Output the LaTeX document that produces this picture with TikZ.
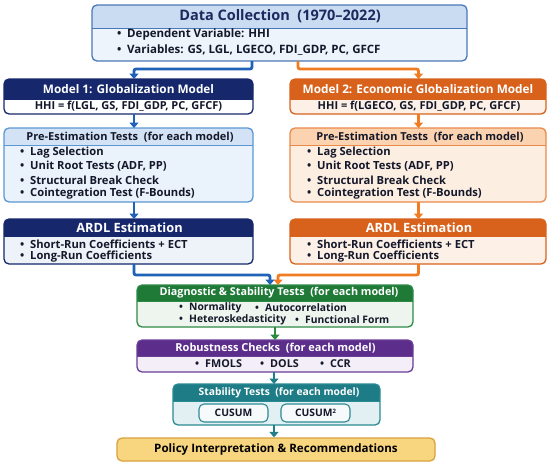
\documentclass[tikz,border=0pt]{standalone}
\usepackage{fontspec}
\setmainfont{Open Sans}
\usetikzlibrary{arrows.meta}
\definecolor{dcB}{HTML}{4A78B8}
\definecolor{dcH}{HTML}{C9DCF2}
\definecolor{dcF}{HTML}{EEF4FB}
\definecolor{navy}{HTML}{16286B}
\definecolor{p1B}{HTML}{5B97D2}
\definecolor{p1H}{HTML}{D3E3F5}
\definecolor{p1F}{HTML}{EAF2FB}
\definecolor{a1F}{HTML}{EEF3F9}
\definecolor{org}{HTML}{D8621C}
\definecolor{m2F}{HTML}{FDF1E7}
\definecolor{p2B}{HTML}{EA8A4A}
\definecolor{p2H}{HTML}{FBD3B0}
\definecolor{p2F}{HTML}{FDEEE2}
\definecolor{grn}{HTML}{1F7A37}
\definecolor{grnB}{HTML}{2D8A45}
\definecolor{grnF}{HTML}{EDF5EE}
\definecolor{pur}{HTML}{5C2D8A}
\definecolor{purB}{HTML}{6A3D96}
\definecolor{purF}{HTML}{F3EEF8}
\definecolor{tea}{HTML}{1D7C86}
\definecolor{teaB}{HTML}{2A8A94}
\definecolor{teaF}{HTML}{E2F0F3}
\definecolor{polF}{HTML}{F8D67F}
\definecolor{polB}{HTML}{D8A23E}
\definecolor{arB}{HTML}{1F63B8}
\definecolor{arO}{HTML}{F07B20}
\definecolor{arG}{HTML}{2A8A3F}
\definecolor{arT}{HTML}{1F7F8A}
\definecolor{txt}{HTML}{14182A}
\definecolor{ttl}{HTML}{1B2A5E}
\newcommand\panel[9]{%
  \node[name=#1, fill=#9, rounded corners=5pt, minimum width={#4-#2}, minimum height={#5-#3}, inner sep=0pt, outer sep=0pt] at ({(#2+#4)/2},{(#3+#5)/2}) {};
  \fill[#8, rounded corners=5pt] (#2,#3) rectangle (#4,#6);
  \fill[#8] (#2,#6-5) rectangle (#4,#6);
  \draw[#7, line width=0.6pt] (#2,#6) -- (#4,#6);
  \draw[#7, line width=1.3pt, rounded corners=5pt] (#1.north west) rectangle (#1.south east);
}
\newcommand\bl{\makebox[10pt][l]{•}}
\tikzset{
  hdr/.style={font=\bfseries\fontsize{11.8}{13}\selectfont, inner sep=0pt},
  bod/.style={font=\bfseries\fontsize{11.2}{13}\selectfont, inner sep=0pt, anchor=west, text=txt},
  sbod/.style={bod, font=\bfseries\fontsize{10.3}{12}\selectfont},
  frm/.style={font=\bfseries\fontsize{11}{13}\selectfont, inner sep=0pt, text=txt},
  arr/.style={line width=2.8pt, rounded corners=2pt, -{Triangle[width=9pt,length=5.5pt]}},
}
\begin{document}
\begin{tikzpicture}[x=1pt,y=-1pt]
\useasboundingbox (0,0) rectangle (550,466);
\fill[white] (0,0) rectangle (550,466);
% panels
\panel{data}{92}{5}{467}{61}{28}{dcB}{dcH}{dcF}
\panel{m1}{4}{79}{253}{114}{99}{navy}{navy}{white}
\panel{m2}{290}{79}{546}{114}{99}{org}{org}{m2F}
\panel{pre1}{4}{128}{253}{202}{145}{p1B}{p1H}{p1F}
\panel{pre2}{290}{128}{546}{202}{145}{p2B}{p2H}{p2F}
\panel{ardl1}{4}{219}{253}{264}{236}{navy}{navy}{a1F}
\panel{ardl2}{290}{219}{546}{264}{236}{org}{org}{m2F}
\panel{diag}{137}{285}{413}{327}{301}{grnB}{grn}{grnF}
\panel{rob}{137}{340}{413}{372}{356}{purB}{pur}{purF}
\panel{stab}{173}{384}{380}{425}{401}{teaB}{tea}{teaF}
\node[name=pol, fill=polF, draw=polB, line width=1.3pt, rounded corners=5pt, minimum width=318pt, minimum height=23pt, inner sep=0pt] at (276,449.5) {};
\node[name=cus1, fill=white!70!teaF, draw=teaB, line width=1.1pt, rounded corners=5pt, minimum width=69pt, minimum height=18pt, inner sep=0pt] at (233.5,413) {};
\node[name=cus2, fill=white!70!teaF, draw=teaB, line width=1.1pt, rounded corners=5pt, minimum width=69pt, minimum height=18pt, inner sep=0pt] at (315.5,413) {};
% texts
\node[hdr, text=ttl, font=\bfseries\fontsize{14.5}{16}\selectfont] (tdata) at (280,16.5) {Data Collection\ \ (1970–2022)};
\node[bod, font=\bfseries\fontsize{11.5}{13}\selectfont] (tdata1) at (117,35) {\bl Dependent Variable: HHI};
\node[bod, font=\bfseries\fontsize{11.5}{13}\selectfont] (tdata2) at (117,50) {\bl Variables: GS, LGL, LGECO, FDI\_GDP, PC, GFCF};
\node[hdr, text=white] (tm1) at (128.5,89.5) {Model 1: Globalization Model};
\node[frm] (tm1f) at (128.5,106.5) {HHI = f(LGL, GS, FDI\_GDP, PC, GFCF)};
\node[hdr, text=white] (tm2) at (418,89.5) {Model 2: Economic Globalization Model};
\node[frm] (tm2f) at (419,106.5) {HHI = f(LGECO, GS, FDI\_GDP, PC, GFCF)};
\node[hdr, text=txt, font=\bfseries\fontsize{11}{13}\selectfont] (tp1) at (130,137) {Pre-Estimation Tests\ \ (for each model)};
\node[hdr, text=txt, font=\bfseries\fontsize{11}{13}\selectfont] (tp2) at (420,137) {Pre-Estimation Tests\ \ (for each model)};
\foreach \xx/\nm in {20/a,307/b}{
  \node[bod] (tp\nm1) at (\xx,153) {\bl Lag Selection};
  \node[bod] (tp\nm2) at (\xx,166.5) {\bl Unit Root Tests (ADF, PP)};
  \node[bod] (tp\nm3) at (\xx,180) {\bl Structural Break Check};
  \node[bod] (tp\nm4) at (\xx,193.5) {\bl Cointegration Test (F-Bounds)};
  \node[bod] (ta\nm1) at (\xx,244) {\bl Short-Run Coefficients + ECT};
  \node[bod] (ta\nm2) at (\xx,257) {\bl Long-Run Coefficients};
}
\node[hdr, text=white, font=\bfseries\fontsize{12.8}{14}\selectfont] (ta1) at (129.5,228) {ARDL Estimation};
\node[hdr, text=white, font=\bfseries\fontsize{12.8}{14}\selectfont] (ta2) at (419,228) {ARDL Estimation};
\node[hdr, text=white, font=\bfseries\fontsize{10.8}{12}\selectfont] (tdg) at (279,293) {Diagnostic \& Stability Tests\ \ (for each model)};
\node[sbod] (tdg1) at (179,308) {\bl Normality};
\node[sbod] (tdg2) at (255,308) {\bl Autocorrelation};
\node[sbod] (tdg3) at (179,319.5) {\bl Heteroskedasticity};
\node[sbod] (tdg4) at (295,319.5) {\bl Functional Form};
\node[hdr, text=white, font=\bfseries\fontsize{11}{12}\selectfont] (trb) at (275.5,348) {Robustness Checks\ \ (for each model)};
\node[sbod, font=\bfseries\fontsize{10.8}{12}\selectfont] (trb1) at (195,364) {\bl FMOLS};
\node[sbod, font=\bfseries\fontsize{10.8}{12}\selectfont] (trb2) at (260,364) {\bl DOLS};
\node[sbod, font=\bfseries\fontsize{10.8}{12}\selectfont] (trb3) at (320,364) {\bl CCR};
\node[hdr, text=white, font=\bfseries\fontsize{10.3}{12}\selectfont] (tst) at (279,392.5) {Stability Tests\ \ (for each model)};
\node[sbod, anchor=center] (tc1) at (cus1) {CUSUM};
\node[sbod, anchor=center] (tc2) at (cus2) {CUSUM\raisebox{3.5pt}{\fontsize{6}{6}\selectfont 2}};
\node[frm, text=black, font=\bfseries\fontsize{11.6}{13}\selectfont] (tpol) at (pol) {Policy Interpretation \& Recommendations};
% arrows
\draw[arr, arB] ([xshift=-27.5pt]data.south) -- ++(0,8) -| ([xshift=5.5pt]m1.north);
\draw[arr, arO] ([xshift=18.5pt]data.south) -- ++(0,8) -| ([xshift=0.5pt]m2.north);
\draw[arr, arB] ([xshift=5.5pt]m1.south) -- ([xshift=5.5pt]pre1.north);
\draw[arr, arB] ([xshift=5.5pt]pre1.south) -- ([xshift=5.5pt]ardl1.north);
\draw[arr, arO] ([xshift=0.5pt]m2.south) -- ([xshift=0.5pt]pre2.north);
\draw[arr, arO] ([xshift=0.5pt]pre2.south) -- ([xshift=0.5pt]ardl2.north);
\draw[arr, arB] ([xshift=5.5pt]ardl1.south) -- ++(0,11) -| ([xshift=-5pt]diag.north);
\draw[arr, arO] ([xshift=0.5pt]ardl2.south) -- ++(0,11) -| ([xshift=3pt]diag.north);
\draw[arr, arG] (diag.south) -- (rob.north);
\draw[arr, arT] ([xshift=-1pt]rob.south) -- ([xshift=-1pt]stab.north -| rob.south);
\draw[arr, arT] ([xshift=-1pt]stab.south -| rob.south) -- ([xshift=-1pt]pol.north -| rob.south);
\end{tikzpicture}
\end{document}
